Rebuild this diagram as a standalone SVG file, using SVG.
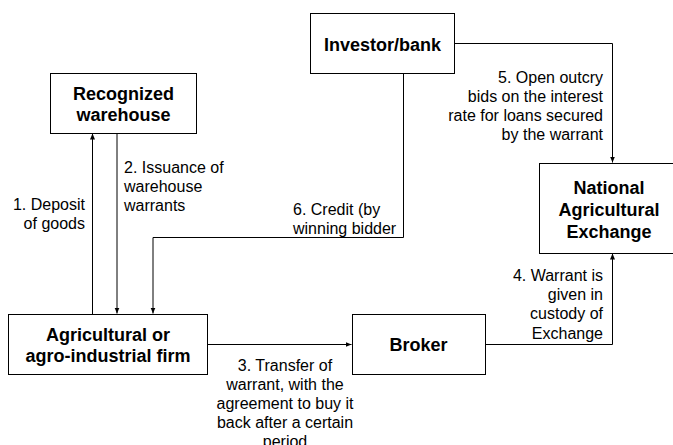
<svg xmlns="http://www.w3.org/2000/svg" width="673" height="445" viewBox="0 0 673 445">
<defs>
<style>
.box{fill:#fff;stroke:#000;stroke-width:1}
.t{font-family:"Liberation Sans",Arial,sans-serif;font-size:18px;font-weight:bold;fill:#000;text-anchor:middle}
.l{font-family:"Liberation Sans",Arial,sans-serif;font-size:16px;fill:#000}
.c{fill:none;stroke:#000;stroke-width:1;marker-end:url(#ah)}
</style>
<marker id="ah" viewBox="0 0 6 6" refX="6" refY="3" markerWidth="6" markerHeight="6" markerUnits="userSpaceOnUse" orient="auto">
<path d="M0,0.5 L6,3 L0,5.5 z" fill="#000"/>
</marker>
</defs>
<rect width="673" height="445" fill="#fff"/>
<g id="connectors">
<path class="c" d="M92.5,314 V133.5"/>
<path class="c" d="M117,133 V313.5"/>
<path class="c" d="M403.5,73 V237.5 H153 V313.5"/>
<path class="c" d="M454,43.5 H612.5 V162.5"/>
<path class="c" d="M207,344.5 H351.5"/>
<path class="c" d="M485,344.5 H612.5 V253.5"/>
</g>
<g id="labels">
<text class="l" text-anchor="end"><tspan x="85" y="210">1. Deposit</tspan><tspan x="85" y="229">of goods</tspan></text>
<text class="l"><tspan x="124" y="173">2. Issuance of</tspan><tspan x="124" y="192">warehouse</tspan><tspan x="124" y="211">warrants</tspan></text>
<text class="l"><tspan x="293" y="215">6. Credit (by</tspan><tspan x="293" y="234">winning bidder</tspan></text>
<text class="l" text-anchor="end"><tspan x="603" y="83">5. Open outcry</tspan><tspan x="603" y="102">bids on the interest</tspan><tspan x="603" y="121">rate for loans secured</tspan><tspan x="603" y="140">by the warrant</tspan></text>
<text class="l" text-anchor="middle"><tspan x="285" y="371">3. Transfer of</tspan><tspan x="285" y="390">warrant, with the</tspan><tspan x="285" y="409">agreement to buy it</tspan><tspan x="285" y="428">back after a certain</tspan><tspan x="285" y="447">period</tspan></text>
<text class="l" text-anchor="end"><tspan x="603" y="281">4. Warrant is</tspan><tspan x="603" y="300">given in</tspan><tspan x="603" y="319">custody of</tspan><tspan x="603" y="339">Exchange</tspan></text>
</g>
<g id="warehouse">
<rect class="box" x="50.5" y="73.5" width="146" height="60"/>
<text class="t"><tspan x="123.5" y="100">Recognized</tspan><tspan x="123.5" y="121">warehouse</tspan></text>
</g>
<g id="investor">
<rect class="box" x="310.5" y="13.5" width="144" height="60"/>
<text class="t" x="382.5" y="51">Investor/bank</text>
</g>
<g id="exchange">
<rect class="box" x="539.5" y="163.5" width="140" height="90"/>
<text class="t"><tspan x="609" y="194">National</tspan><tspan x="609" y="216">Agricultural</tspan><tspan x="609" y="238">Exchange</tspan></text>
</g>
<g id="firm">
<rect class="box" x="8.5" y="314.5" width="199" height="60"/>
<text class="t"><tspan x="108" y="341">Agricultural or</tspan><tspan x="108" y="362">agro-industrial firm</tspan></text>
</g>
<g id="broker">
<rect class="box" x="352.5" y="314.5" width="133" height="60"/>
<text class="t" x="418.5" y="351">Broker</text>
</g>
</svg>
